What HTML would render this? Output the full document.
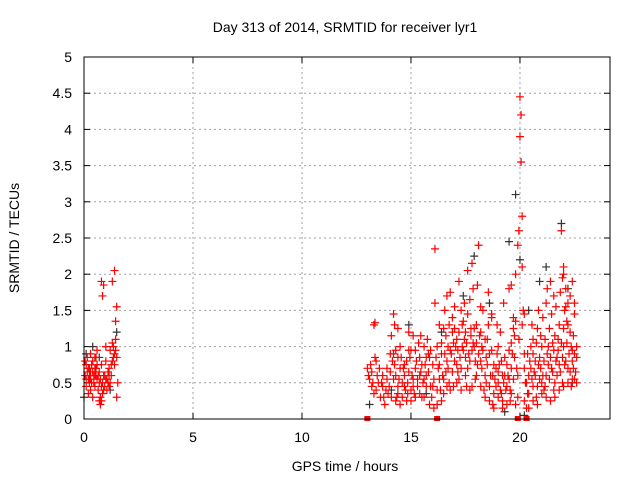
<!DOCTYPE html>
<html><head><meta charset="utf-8"><style>
body{margin:0;background:#fff}
svg{display:block;font-family:"Liberation Sans",sans-serif}
</style></head><body>
<svg id="chart" width="640" height="480">
<text x="345" y="32" font-size="14" text-anchor="middle">Day 313 of 2014, SRMTID for receiver lyr1</text>
<text x="345" y="471" font-size="14" text-anchor="middle">GPS time / hours</text>
<text transform="translate(19,238) rotate(-90)" font-size="14" text-anchor="middle">SRMTID / TECUs</text>
<g id="grid"></g>
<g id="ticks"></g>
<g id="black"></g>
<g id="red"></g>
<rect x="84" y="57" width="526" height="362" fill="none" stroke="#000"/>
</svg>
<script>
const xTicks=[0,5,10,15,20];
const yTicks=[0,0.5,1,1.5,2,2.5,3,3.5,4,4.5,5];
const yTickLabels=["0","0.5","1","1.5","2","2.5","3","3.5","4","4.5","5"];
const redPoints=[
[0.05,0.6],[0.1,0.75],[0.1,0.45],[0.15,0.85],[0.2,0.55],[0.2,0.35],[0.25,0.7],[0.3,0.65],[0.3,0.9],[0.35,0.5],[0.4,0.8],[0.4,0.3],[0.45,0.6],[0.5,0.7],[0.5,0.45],[0.55,0.85],[0.6,0.55],[0.6,0.95],[0.65,0.4],[0.7,0.25],[0.7,0.65],[0.75,0.3],[0.8,0.75],[0.8,1.9],[0.85,0.5],[0.85,1.7],[0.9,1.85],[0.9,0.6],[0.95,0.45],[1.0,0.8],[1.0,1.0],[1.05,0.55],[1.1,0.5],[1.15,0.7],[1.2,0.95],[1.25,0.6],[1.3,1.05],[1.3,1.9],[1.35,0.85],[1.4,2.05],[1.4,0.75],[1.45,1.35],[1.5,1.55],[1.5,0.3],[1.55,0.5],[1.45,1.1],[0.25,0.5],[0.55,0.6],[1.15,0.45],
[0.05,0.8],[0.1,0.55],[0.15,0.65],[0.2,0.7],[0.25,0.6],[0.3,0.55],[0.35,0.75],[0.4,0.65],[0.45,0.5],[0.5,0.6],[0.55,0.7],[0.6,0.75],[0.65,0.6],[0.7,0.5],[0.75,0.55],[0.8,0.45],[0.85,0.35],[0.9,0.4],[0.95,0.6],[1.0,0.55],[1.05,0.4],[1.1,0.65],[1.15,0.6],[1.2,0.5],[1.25,0.75],[1.3,0.8],[1.35,1.0],[1.4,0.9],[1.45,0.95],[1.5,0.85],[0.75,0.2],[0.8,0.25],[0.5,0.85],[0.3,0.4],
[13.0,0.7],[13.1,0.55],[13.2,0.45],[13.3,1.3],[13.3,0.35],[13.4,0.8],[13.5,0.5],[13.6,0.3],[13.7,0.6],[13.8,0.2],[13.9,0.7],[14.0,0.45],[14.1,1.15],[14.2,0.9],[14.2,1.45],[14.3,0.6],[14.4,0.35],[14.4,0.85],[14.5,1.0],[14.6,0.5],[14.7,0.75],[14.8,0.25],[14.9,0.65],[15.0,0.95],[15.0,0.4],[15.1,1.15],[15.2,0.7],[15.3,0.55],[15.4,0.85],[15.5,0.3],[15.6,1.0],[15.7,0.6],[15.8,0.9],[15.9,0.45],[16.0,0.75],[16.1,1.6],[16.1,2.35],[16.2,0.2],[16.3,0.55],[16.4,0.9],[16.5,1.25],[16.6,0.65],[16.7,1.0],[16.8,1.75],[16.8,0.4],[16.9,1.4],[17.0,0.8],[17.1,1.1],[17.2,0.55],[17.3,1.5],[17.4,0.95],[17.5,1.2],[17.6,0.7],[17.7,1.65],[17.8,2.15],[17.8,0.45],[17.9,1.0],[18.0,1.3],[18.1,2.4],[18.2,0.8],[18.3,1.5],[18.4,0.6],[18.5,1.1],[18.6,0.9],[18.7,1.4],[18.8,0.35],[18.9,0.7],[19.0,0.5],[19.1,1.2],[19.2,0.25],[19.3,0.6],[19.4,0.45],[19.5,1.8],[19.5,0.95],[19.6,0.7],[19.7,1.4],[19.8,2.0],[19.9,0.3],[20.0,4.45],[20.0,3.9],[20.05,3.55],[20.05,4.2],[20.1,2.8],[20.1,2.1],[20.15,1.5],[20.2,0.9],[20.3,0.15],[20.4,0.6],[20.5,1.0],[20.6,0.45],[20.7,0.8],[20.8,1.25],[20.9,0.55],[21.0,1.0],[21.1,0.4],[21.2,1.6],[21.3,0.75],[21.4,1.9],[21.5,1.05],[21.6,0.5],[21.7,0.85],[21.8,1.3],[21.9,2.6],[22.0,2.1],[22.0,1.0],[22.1,1.55],[22.2,0.7],[22.3,1.2],[22.4,0.95],[22.5,0.55],[22.6,0.85],
[13.15,0.75],[13.45,0.6],[13.65,0.5],[13.85,0.4],[14.05,0.65],[14.25,0.75],[14.45,0.55],[14.65,0.7],[14.85,0.5],[15.05,0.6],[15.25,0.8],[15.45,0.65],[15.65,0.75],[15.85,0.85],[16.05,0.55],[16.25,0.7],[16.45,0.6],[16.65,0.8],[16.85,0.9],[17.05,1.0],[17.25,0.85],[17.45,1.1],[17.65,0.9],[17.85,1.05],[18.05,0.75],[18.25,1.0],[18.45,0.85],[18.65,0.6],[18.85,0.55],[19.05,0.75],[19.25,0.5],[19.45,0.6],[19.65,0.9],[19.85,0.7],[20.25,0.5],[20.45,0.8],[20.65,0.65],[20.85,0.75],[21.05,0.6],[21.25,0.9],[21.45,0.7],[21.65,0.8],[21.85,0.65],[22.05,0.75],[22.25,0.9],[22.45,0.7],
[14.35,0.3],[14.75,0.4],[15.15,0.35],[15.55,0.5],[15.95,0.3],[16.35,0.4],[16.75,0.5],[17.15,0.65],[17.55,0.45],[17.95,0.55],[18.35,0.4],[18.75,0.2],[19.15,0.35],[19.55,0.25],[20.35,0.35],[20.75,0.3],[21.15,0.45],[21.55,0.4],[21.95,0.5],[22.35,0.45],
[16.9,1.2],[17.35,1.3],[17.75,1.25],[18.15,1.15],[18.55,1.3],[19.0,1.0],[19.75,1.15],[20.55,1.3],[21.35,1.25],[21.75,1.1],[22.15,1.35],[22.5,1.45],[15.35,1.05],[14.95,0.85],[13.35,0.85],
[14.05,0.9],[14.15,0.8],[14.3,0.95],[14.5,0.7],[14.55,0.85],[14.7,0.6],[14.8,0.8],[14.9,0.95],[15.1,0.55],[15.2,0.95],[15.3,0.45],[15.4,0.6],[15.5,0.75],[15.6,0.55],[15.7,0.85],[15.75,1.1],[15.8,0.65],[15.9,0.95],[16.0,0.45],[16.15,0.85],[16.2,1.0],[16.3,0.75],[16.4,1.05],[16.5,0.55],[16.55,0.9],[16.6,1.15],[16.7,0.7],[16.75,1.3],[16.8,0.95],[16.9,0.65],[16.95,1.05],[17.0,1.25],[17.1,0.75],[17.15,0.95],[17.2,1.2],[17.3,0.7],[17.35,1.0],[17.4,1.35],[17.5,0.85],[17.55,1.05],[17.6,1.45],[17.7,0.8],[17.75,1.15],[17.8,0.95],[17.9,1.25],[17.95,0.8],[18.0,1.05],[18.1,0.9],[18.2,1.2],[18.25,0.7],[18.3,0.95],[18.4,1.1],[18.45,0.5],[18.5,0.75],[18.6,0.45],[18.7,0.95],[18.75,0.6],[18.8,0.75],[18.9,0.45],[18.95,0.9],[19.0,0.65],[19.1,0.4],[19.15,0.8],[19.2,0.6],[19.3,0.85],[19.35,0.4],[19.4,0.75],[19.5,0.55],[19.55,0.4],[19.6,1.05],[19.7,0.55],[19.75,0.85],[19.8,1.35],[19.9,0.6],[19.95,1.1],
[20.2,0.7],[20.3,0.5],[20.35,0.9],[20.4,0.35],[20.5,0.7],[20.55,0.55],[20.6,0.9],[20.7,0.6],[20.75,1.05],[20.8,0.45],[20.9,0.85],[20.95,0.7],[21.0,0.5],[21.1,0.8],[21.15,1.1],[21.2,0.6],[21.3,1.0],[21.35,0.55],[21.4,0.85],[21.5,0.65],[21.55,0.95],[21.6,1.15],[21.7,0.6],[21.75,0.95],[21.8,0.75],[21.9,1.05],[21.95,0.85],[22.0,1.25],[22.1,0.8],[22.15,1.05],[22.2,1.6],[22.3,0.65],[22.35,1.0],[22.4,0.8],[22.45,1.15],[22.5,0.9],[22.55,0.65],[22.6,1.0],[22.1,1.8],[21.95,1.95],[22.05,1.5],[22.2,1.3],
[13.05,0.6],[13.2,0.65],[13.25,0.5],[13.4,0.4],[13.55,0.7],[13.7,0.45],[13.75,0.3],[13.9,0.55],[13.95,0.35],[14.1,0.3],[14.2,0.55],[14.3,0.25],[14.4,0.45],[14.5,0.2],[14.6,0.3],[14.7,0.45],[14.85,0.35],[15.0,0.25],[15.1,0.45],[15.2,0.3],[15.4,0.35],[15.6,0.3],[15.7,0.45],[15.85,0.2],[16.05,0.15],[16.2,0.4],[16.4,0.25],[16.5,0.35],[16.65,0.45],[16.95,0.45],[17.1,0.5],[17.3,0.4],[17.5,0.6],[17.7,0.4],[18.0,0.6],[18.2,0.45],[18.4,0.3],[18.6,0.25],[18.8,0.15],[19.0,0.3],[19.2,0.15],[19.4,0.2],[19.6,0.35],[19.8,0.2],[20.2,0.25],[20.4,0.15],[20.6,0.25],[20.8,0.2],[21.0,0.35],[21.2,0.3],[21.4,0.25],[21.6,0.3],[21.8,0.4],[22.0,0.45],[22.2,0.5],[22.4,0.55],[22.6,0.5],
[13.35,1.33],[14.25,1.3],[14.4,1.25],[14.9,1.2],[15.45,1.15],[16.3,1.3],[16.55,1.5],[16.65,1.7],[17.0,1.55],[17.2,1.9],[17.45,1.6],[17.6,2.05],[17.85,1.8],[18.05,1.85],[18.2,1.55],[18.55,1.75],[18.7,1.45],[18.95,1.3],[19.25,1.6],[19.6,1.85],[19.7,1.25],[19.9,2.4],[19.95,2.6],[20.1,1.3],[20.2,1.45],[20.6,1.1],[20.85,1.5],[21.05,1.4],[21.25,1.8],[21.45,1.45],[21.65,1.55],[21.85,1.75],[22.0,2.0],[22.3,1.7],[22.4,1.9],[22.5,1.6],[21.55,1.7],[20.95,1.15]
];
const blackPoints=[
[0.0,0.3],[0.1,0.9],[0.4,1.0],[0.7,0.85],[1.2,0.4],[1.5,1.2],[13.1,0.2],[14.1,0.4],[14.9,1.3],[15.7,0.35],[16.4,1.2],[17.4,1.7],[17.9,2.25],[18.6,1.6],[19.5,2.45],[19.8,3.1],[20.0,2.2],[20.4,1.5],[20.9,1.9],[21.2,2.1],[21.9,2.7],[22.2,1.8],[22.4,0.5],[19.3,0.1],[20.2,0.05]
];
const squares=[13.0,16.2,19.9,20.3];
const NS='http://www.w3.org/2000/svg';
const X0=84,X1=610,XMAX=24.13,Y0=419,Y1=57,YMAX=5;
const sx=v=>X0+(X1-X0)*v/XMAX;
const sy=v=>Y0-(Y0-Y1)*v/YMAX;
function mk(tag,attrs,parent){const e=document.createElementNS(NS,tag);for(const k in attrs)e.setAttribute(k,attrs[k]);parent.appendChild(e);return e;}
const grid=document.getElementById('grid'),ticks=document.getElementById('ticks');
xTicks.forEach(t=>{const x=sx(t);
 if(t>0){const l=mk('line',{x1:x,x2:x,y1:Y1,y2:Y0,stroke:'#a0a0a0','stroke-dasharray':'2,3'},grid);}
 mk('line',{x1:x,x2:x,y1:Y0,y2:Y0-6,stroke:'#000'},ticks);mk('line',{x1:x,x2:x,y1:Y1,y2:Y1+6,stroke:'#000'},ticks);
 const tx=mk('text',{x:x,y:442,'font-size':14,'text-anchor':'middle'},ticks);tx.textContent=t;
 });
yTicks.forEach((t,i)=>{const y=sy(t);
 if(t>0&&t<5){const l=mk('line',{x1:X0,x2:X1,y1:y,y2:y,stroke:'#a0a0a0','stroke-dasharray':'2,3'},grid);}
 mk('line',{x1:X0,x2:X0+6,y1:y,y2:y,stroke:'#000'},ticks);mk('line',{x1:X1,x2:X1-6,y1:y,y2:y,stroke:'#000'},ticks);
 const tx=mk('text',{x:72,y:y+5,'font-size':14,'text-anchor':'end'},ticks);tx.textContent=yTickLabels[i];
 });
function plus(g,p,c){const x=sx(p[0]),y=sy(p[1]);
 const e=mk('path',{d:`M${x-4},${y}h8M${x},${y-4}v8`,stroke:c,'stroke-width':1.2,fill:'none'},g);
 
 }
const bg=document.getElementById('black'),rg=document.getElementById('red');
blackPoints.forEach(p=>plus(bg,p,'#333'));
redPoints.forEach(p=>plus(rg,p,'#f00'));
squares.forEach(v=>{const r=mk('rect',{x:sx(v)-3,y:Y0-3,width:6,height:5,fill:'#f00'},rg);
 
 });
</script>
</body></html>
